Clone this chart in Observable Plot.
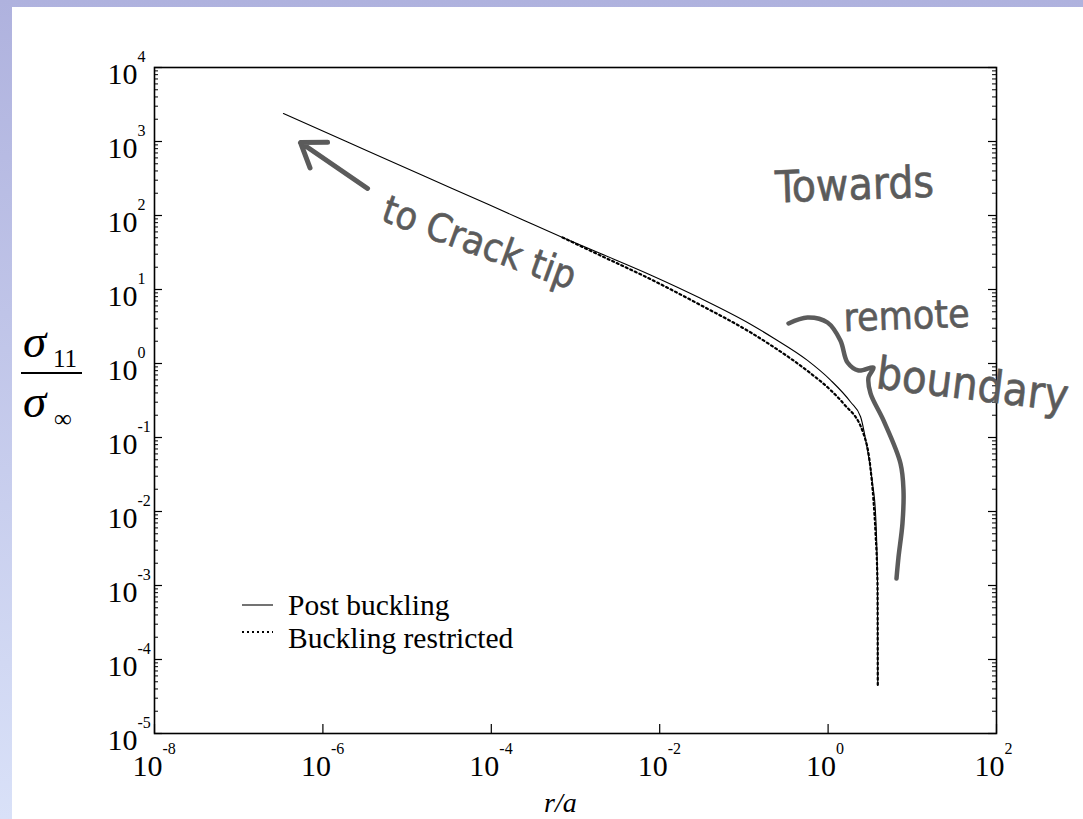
<!DOCTYPE html>
<html><head><meta charset="utf-8">
<script src="https://cdn.jsdelivr.net/npm/d3@7"></script>
<script src="https://cdn.jsdelivr.net/npm/@observablehq/plot@0.6"></script>
<style>
html,body{margin:0;padding:0;}
body{width:1083px;height:819px;position:relative;overflow:hidden;background:linear-gradient(to bottom,#afb2de,#d9e1f8);}
#panel{position:absolute;left:12px;top:7px;right:0;bottom:0;background:#fff;}
#chart{position:absolute;left:0;top:0;}
#over{position:absolute;left:0;top:0;pointer-events:none;}
</style></head><body>
<div id="panel"></div><div id="chart"></div><svg id="over" width="1083" height="819"></svg>
<script>
// ---- data ----
const seriesNames = ["Post buckling", "Buckling restricted"];
const rPost = [3.4e-7, 1.96e-6, 7.69e-6, 3.27e-5, 2.05e-4, 7.01e-4, 1.98e-3, 7.78e-3, 0.0305, 0.120, 0.224, 0.569, 1.07, 1.85, 2.43, 2.94, 3.37, 3.66, 3.86, 3.89];
const sPost = [2390, 986, 494, 238, 94, 50.5, 30.6, 15.7, 7.59, 3.39, 2.21, 1.10, 0.596, 0.302, 0.191, 0.0667, 0.0239, 0.0094, 0.00117, 4.5e-5];
const rRest = [7.01e-4, 1.98e-3, 7.78e-3, 0.0305, 0.120, 0.224, 0.569, 1.07, 1.52, 2.63, 3.18, 3.46, 3.66, 3.86, 3.89];
const sRest = [50.5, 28.8, 13.8, 6.17, 2.63, 1.68, 0.794, 0.437, 0.288, 0.113, 0.0394, 0.0141, 0.00505, 0.00106, 4.5e-5];
const xTickExp = [-8, -6, -4, -2, 0, 2];
const yTickExp = [-5, -4, -3, -2, -1, 0, 1, 2, 3, 4];
// hand-drawn annotations (data coordinates)
const annoText = ["to Crack tip", "Towards", "remote", "boundary"];
const annoX = [7.2e-5, 2.06, 8.53, 51.9];
const annoY = [42, 254, 4.32, 0.505];
const annoRotate = [20, -2, -2, 7];
const annoSize = [39, 44, 39, 45];
const arrowFrom = {x: 3.39e-6, y: 232};
const arrowTo = {x: 5.42e-7, y: 968};
const braceX = [0.339, 0.569, 0.984, 1.40, 1.70, 2.30, 3.46, 3.02, 3.19, 4.55, 7.24, 7.86, 7.64, 6.85, 6.49];
const braceY = [3.48, 4.19, 3.58, 2.05, 1.03, 0.804, 0.883, 0.647, 0.394, 0.170, 0.0446, 0.0192, 0.00689, 0.00239, 0.00124];

// ---- tables ----
const post = rPost.map((r, i) => ({r, s: sPost[i]}));
const rest = rRest.map((r, i) => ({r, s: sRest[i]}));
const anno = annoText.map((t, i) => ({t, x: annoX[i], y: annoY[i], rot: annoRotate[i], fs: annoSize[i]}));
const brace = braceX.map((x, i) => ({x, y: braceY[i]}));
const yMajor = yTickExp.map(e => 10 ** e);
const xMajor = xTickExp.map(e => 10 ** e);
const yMinor = yTickExp.slice(0, -1).flatMap(e => [2,3,4,5,6,7,8,9].map(m => m * 10 ** e));

const W = 1083, H = 819, mL = 154, mT = 67, mR = 87, mB = 86;
const fw = W - mL - mR, fh = H - mT - mB;
const serif = "'Liberation Serif','Times New Roman',serif";
const hand = "'Liberation Sans Narrow','DejaVu Sans Condensed','Roboto','DejaVu Sans',sans-serif";
const ink = "#5b5b5b";
const dots = "2,3";

const chart = Plot.plot({
  width: W, height: H,
  marginLeft: mL, marginTop: mT, marginRight: mR, marginBottom: mB,
  style: {background: "transparent", fontFamily: serif, overflow: "visible"},
  x: {type: "log", domain: [1e-8, 1e2], axis: null},
  y: {type: "log", domain: [1e-5, 1e4], axis: null},
  marks: [
    // ticks
    Plot.tickY(yMajor, {y: d => d, insetRight: fw - 8, stroke: "#000", strokeWidth: 1.2}),
    Plot.tickY(yMinor, {y: d => d, insetRight: fw - 4, stroke: "#000", strokeWidth: 1}),
    Plot.tickY(yMajor, {y: d => d, insetLeft: fw - 8, stroke: "#000", strokeWidth: 1.2}),
    Plot.tickY(yMinor, {y: d => d, insetLeft: fw - 4, stroke: "#000", strokeWidth: 1}),
    Plot.tickX(xMajor, {x: d => d, insetTop: fh - 9, stroke: "#000", strokeWidth: 1.2}),
    Plot.frame({stroke: "#000", strokeWidth: 1.6}),
    // tick labels
    Plot.text(yTickExp, {y: e => 10 ** e, text: () => "10", frameAnchor: "left", textAnchor: "end", lineAnchor: "bottom", dx: -17, dy: 16, fontSize: 30, fill: "#000"}),
    Plot.text(yTickExp, {y: e => 10 ** e, text: e => String(e), frameAnchor: "left", textAnchor: "start", lineAnchor: "bottom", dx: -17, dy: -6, fontSize: 16, fill: "#000"}),
    Plot.text(xTickExp, {x: e => 10 ** e, text: () => "10", frameAnchor: "bottom", textAnchor: "middle", lineAnchor: "bottom", dx: -7, dy: 42, fontSize: 30, fill: "#000"}),
    Plot.text(xTickExp, {x: e => 10 ** e, text: e => String(e), frameAnchor: "bottom", textAnchor: "start", lineAnchor: "bottom", dx: 8, dy: 20, fontSize: 16, fill: "#000"}),
    // series
    Plot.line(post, {x: "r", y: "s", curve: "monotone-x", stroke: "#000", strokeWidth: 1.1}),
    Plot.line(rest, {x: "r", y: "s", curve: "monotone-x", stroke: "#000", strokeWidth: 2.2, strokeDasharray: dots}),
    // hand-drawn annotations
    Plot.arrow([{x1: arrowFrom.x, y1: arrowFrom.y, x2: arrowTo.x, y2: arrowTo.y}], {x1: "x1", y1: "y1", x2: "x2", y2: "y2", stroke: ink, strokeWidth: 5, headLength: 22, headAngle: 70, strokeLinecap: "round"}),
    Plot.line(brace, {x: "x", y: "y", curve: "catmull-rom", stroke: ink, strokeWidth: 4.5, strokeLinecap: "round", strokeLinejoin: "round"}),
    ...anno.map(a => Plot.text([a], {x: "x", y: "y", text: "t", rotate: a.rot, fontSize: a.fs, fontFamily: hand, fill: ink, stroke: ink, strokeWidth: 0.6}))
  ]
});
document.getElementById("chart").appendChild(chart);

// ---- axis titles and legend ----
const over = d3.select("#over");
function txt(x, y, s, size, opts = {}) {
  const t = over.append("text").attr("x", x).attr("y", y).attr("font-family", serif).attr("font-size", size).attr("fill", "#000").text(s);
  if (opts.italic) t.attr("font-style", "italic");
  return t;
}
txt(23, 357, "σ", 47, {italic: true});
txt(53, 367, "11", 25);
over.append("line").attr("x1", 21).attr("x2", 82).attr("y1", 373).attr("y2", 373).attr("stroke", "#000").attr("stroke-width", 2);
txt(23, 417, "σ", 47, {italic: true});
txt(54, 427, "∞", 25);
txt(544, 812, "r/a", 28, {italic: true});

over.append("line").attr("x1", 242).attr("x2", 273).attr("y1", 605).attr("y2", 605).attr("stroke", "#000").attr("stroke-width", 1.1);
over.append("line").attr("x1", 242).attr("x2", 273).attr("y1", 632).attr("y2", 632).attr("stroke", "#000").attr("stroke-width", 2.2).attr("stroke-dasharray", dots);
txt(288, 615, seriesNames[0], 29.5);
txt(288, 648, seriesNames[1], 29.5);
</script>
</body></html>
